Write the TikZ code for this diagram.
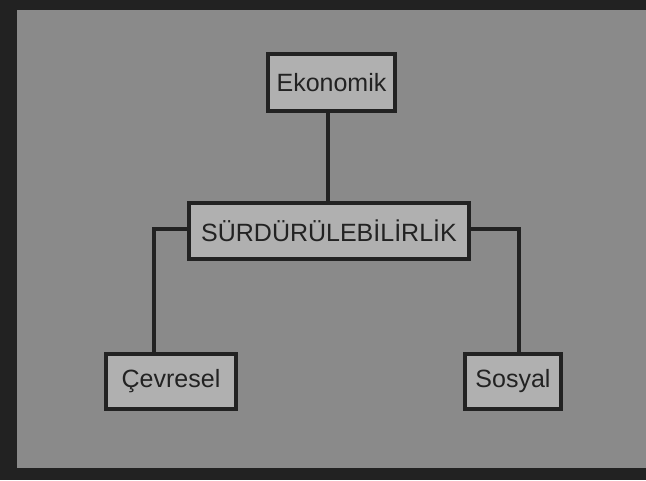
\documentclass[tikz,border=0pt]{standalone}
\usepackage{fontspec}
\setmainfont{Liberation Sans}
\definecolor{frame}{HTML}{222222}
\definecolor{bg}{HTML}{8A8A8A}
\definecolor{boxfill}{HTML}{B0B0B0}
\begin{document}
\begin{tikzpicture}[x=1pt,y=-1pt,
  box/.style={draw=frame, fill=boxfill, line width=4pt, inner sep=0pt,
    text=frame, font=\fontsize{25}{30}\selectfont},
  link/.style={draw=frame, line width=4pt}]
\useasboundingbox (0,0) rectangle (646,480);
\fill[frame] (0,0) rectangle (646,480);
\fill[bg] (17,10) rectangle (646,468);
\node[box, minimum width=127pt, minimum height=57pt] (ek) at (331.5,82.5) {Ekonomik};
\node[box, minimum width=280pt, minimum height=56pt] (su) at (329,231) {SÜRDÜRÜLEBİLİRLİK};
\node[box, minimum width=130pt, minimum height=55pt] (cv) at (171,381.5) {Çevresel};
\node[box, minimum width=96pt, minimum height=55pt] (so) at (513,381.5) {Sosyal};
\draw[link] ([xshift=-3.5pt]ek.south) -- ([xshift=-3.5pt]ek.south |- su.north);
\draw[link] ([yshift=2pt]su.west) -| ([xshift=-17pt]cv.north);
\draw[link] ([yshift=2pt]su.east) -| ([xshift=6pt]so.north);
\end{tikzpicture}
\end{document}
